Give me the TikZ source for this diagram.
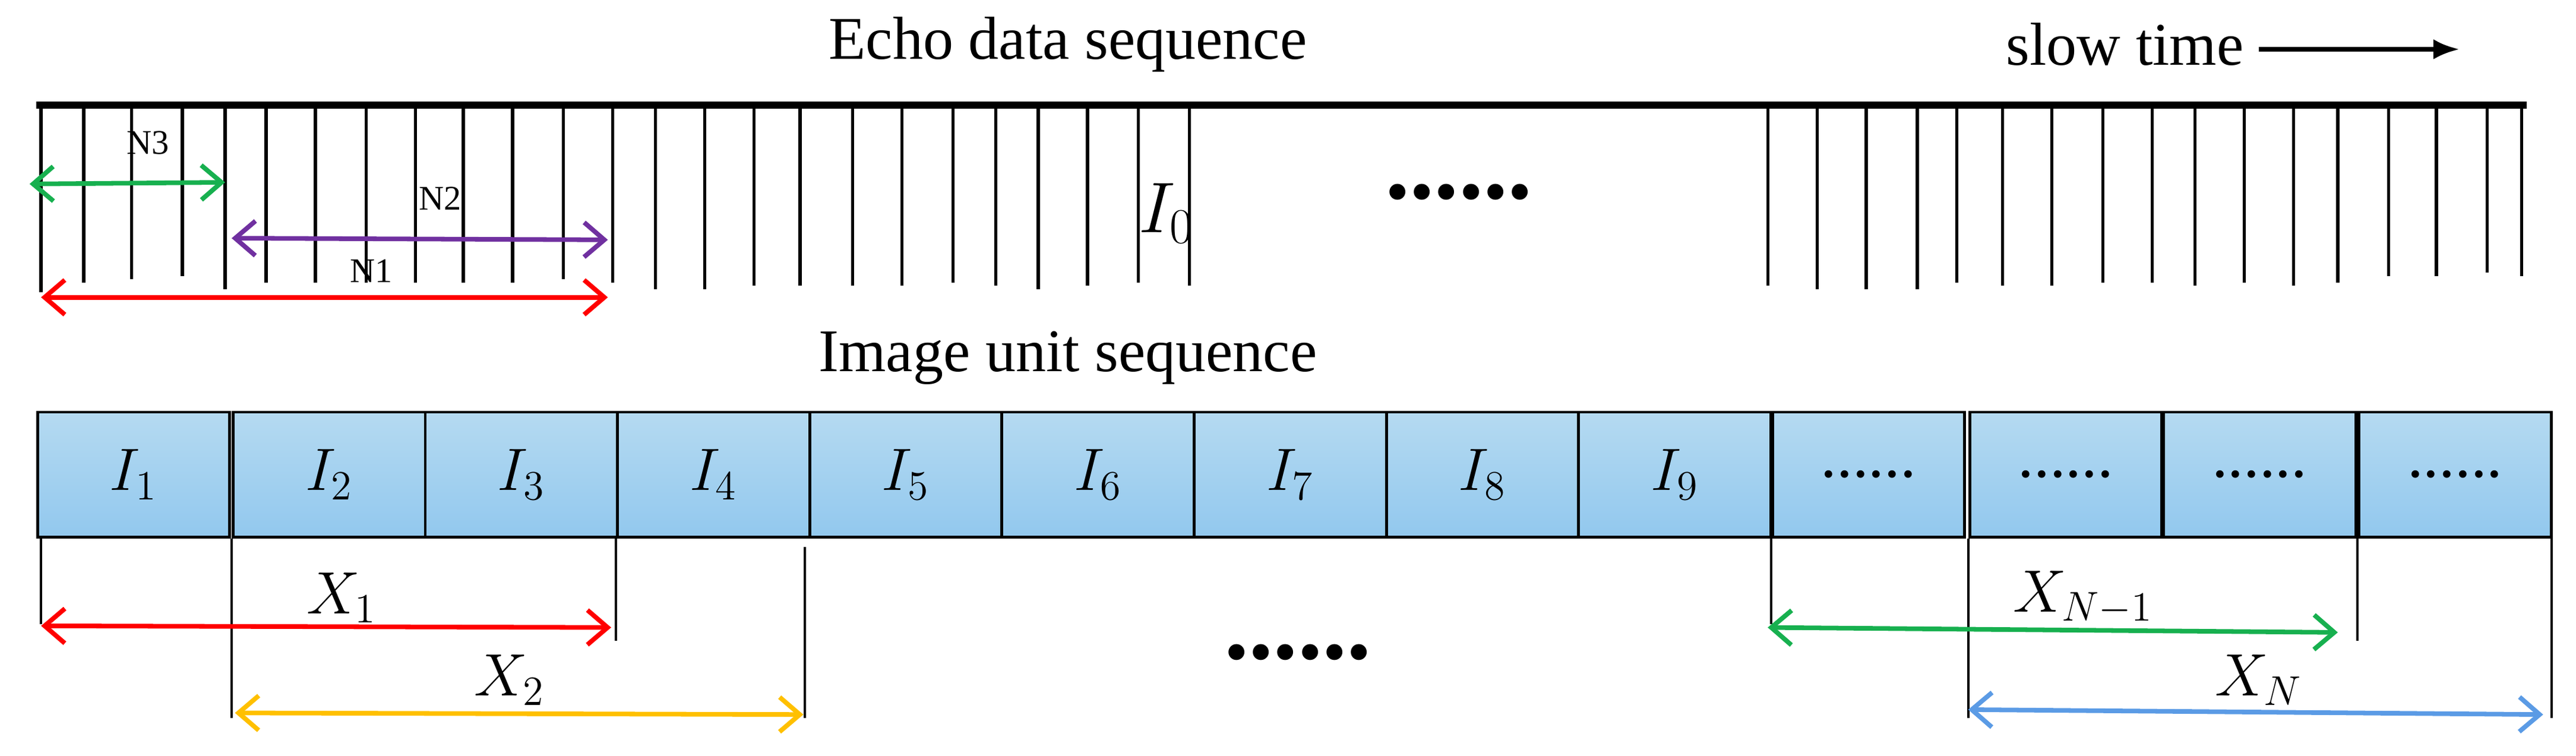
\documentclass[tikz,border=0pt]{standalone}
\usepackage{fontspec}
\setmainfont{Liberation Serif}
\usetikzlibrary{arrows.meta}
\definecolor{btop}{HTML}{B5DAF1}
\definecolor{bbot}{HTML}{92C8EE}
\definecolor{cgreen}{HTML}{17B04F}
\definecolor{cpurple}{HTML}{7030A0}
\definecolor{cred}{HTML}{FF0000}
\definecolor{corange}{HTML}{FFC000}
\definecolor{cblue}{HTML}{5B9BE5}
\newcommand{\mydots}{......}
\begin{document}
\begin{tikzpicture}[x=0.02cm,y=-0.02cm,
  tick/.style={line width=1.1pt},
  dim/.style={line width=1.6pt,{Straight Barb[length=7pt,width=12pt]}-{Straight Barb[length=7pt,width=12pt]}},
  big/.style={font=\fontsize{21}{25}\selectfont},
  small/.style={font=\fontsize{12}{14}\selectfont},
  box/.style={draw,line width=1pt,top color=btop,bottom color=bbot,minimum width=117*0.02cm,minimum height=76*0.02cm,inner sep=0,font=\fontsize{22}{26}\selectfont},
  guide/.style={line width=0.8pt}]
\useasboundingbox (0,0) rectangle (1568,460);
% titles
\node[big] (t1) at (650,27) {Echo data sequence};
\node[big,anchor=west] (st) at (1215,27) {slow time};
\coordinate (sa) at (1375,30); \coordinate (sb) at (1497,30);
\draw[line width=1.5pt,-{Latex[length=9pt,width=7pt]}] (sa) -- (sb);
\node[big] (t2) at (650,218) {Image unit sequence};
% top axis
\coordinate (ta) at (22,64); \coordinate (tb) at (1538,64);
\draw[line width=2.5pt] (ta) -- (tb);
\foreach \x/\b in {25/178,51/172,80/170,111/168,137/176,162/172,192/172,223/172,253/172,282/172,312/172,343/170,373/172,
  399/176,429/176,459/174,487/174,519/174,549/174,580/172,606/174,632/176,662/174,693/172,724/174,
  1076/174,1106/176,1136/176,1167/176,1191/172,1219/174,1249/174,1280/172,1310/172,1336/174,1366/172,1396/174,1423/172,1454/168,1483/168,1514/166,1535/168}
  \draw[tick] (\x,66) -- (\x,\b);
\node[font=\fontsize{26}{30}\selectfont] (i0) at (710,130) {$I_0$};
\node[font=\bfseries\fontsize{34}{36}\selectfont] (d1) at (888,117) {\mydots};
% N arrows
\coordinate (n3a) at (18,112); \coordinate (n3b) at (137,111);
\draw[dim,cgreen] (n3a) -- (n3b);
\node[small] (n3) at (90,87) {N3};
\coordinate (n2a) at (141,145); \coordinate (n2b) at (370,146);
\draw[dim,cpurple] (n2a) -- (n2b);
\node[small] (n2) at (268,121) {N2};
\coordinate (n1a) at (25,181); \coordinate (n1b) at (370,181);
\draw[dim,cred] (n1a) -- (n1b);
\node[small] (n1) at (226,165) {N1};
% boxes
\foreach \n/\x/\t in {b1/22/$I_1$,b2/141/$I_2$,b3/258/$I_3$,b4/375/$I_4$,b5/492/$I_5$,b6/609/$I_6$,b7/726/$I_7$,b8/843/$I_8$,b9/960/$I_9$,b10/1078/\mydots,b11/1198/\mydots,b12/1316/\mydots,b13/1435/\mydots}
  \node[box,anchor=north west] (\n) at (\x,250) {\t};
% guides
\foreach \x/\a/\b in {25/328/380,141/328/437,375/328/390,490/333/437,1078/328/380,1198/328/437,1435/328/390,1553/328/437}
  \draw[guide] (\x,\a) -- (\x,\b);
\coordinate (x1a) at (25,381); \coordinate (x1b) at (372,382);
\draw[dim,cred] (x1a) -- (x1b);
\node[font=\fontsize{22}{26}\selectfont] (x1) at (208,364) {$X_1$};
\coordinate (x2a) at (143,434); \coordinate (x2b) at (489,435);
\draw[dim,corange] (x2a) -- (x2b);
\node[font=\fontsize{22}{26}\selectfont] (x2) at (310,414) {$X_2$};
\coordinate (xna) at (1076,382); \coordinate (xnb) at (1423,385);
\draw[dim,cgreen] (xna) -- (xnb);
\node[font=\fontsize{22}{26}\selectfont] (xn1) at (1268,364) {$X_{N-1}$};
\coordinate (xa) at (1198,432); \coordinate (xb) at (1548,435);
\draw[dim,cblue] (xa) -- (xb);
\node[font=\fontsize{22}{26}\selectfont] (xn) at (1375,414) {$X_N$};
\node[font=\bfseries\fontsize{34}{36}\selectfont] (d2) at (790,397) {\mydots};
\end{tikzpicture}
\end{document}
